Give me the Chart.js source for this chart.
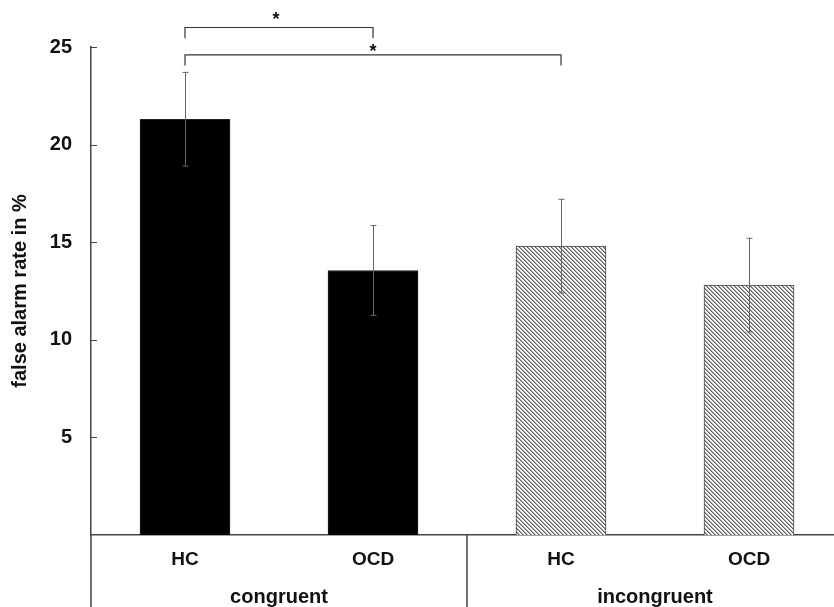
<!DOCTYPE html>
<html lang="en">
<head>
  <meta charset="UTF-8" />
  <title>False alarm rate</title>
  <script src="https://cdn.jsdelivr.net/npm/chart.js"></script>
  <style>
    html, body { margin: 0; padding: 0; background: #fff; overflow: hidden; }
    #wrap { width: 834px; height: 607px; overflow: hidden; }
  </style>
</head>
<body>
  <div id="wrap"><canvas id="chart" width="850" height="607"></canvas></div>

  <script>
    // data
    const categories = ['HC', 'OCD', 'HC', 'OCD'];
    const groups = ['congruent', 'incongruent'];
    const values = [21.3, 13.55, 14.8, 12.8];
    const errors = [2.4, 2.3, 2.4, 2.4];
    const yTicks = [5, 10, 15, 20, 25];
    // significance brackets
    const bracketFrom = [0, 0];
    const bracketTo = [1, 2];
    const bracketLevel = [26.0, 24.6];
    const bracketLabel = ['*', '*'];

    const FONT = 'Arial, "Liberation Sans", sans-serif';
    const LINE = '#444';

    // fine diagonal hatch (top-left to bottom-right)
    function hatch() {
      const c = document.createElement('canvas');
      c.width = 4; c.height = 4;
      const g = c.getContext('2d');
      const img = g.createImageData(4, 4);
      for (let j = 0; j < 4; j++) {
        for (let i = 0; i < 4; i++) {
          const k = ((i - j) % 4 + 4) % 4;
          const v = k === 0 ? 0x60 : (k === 1 ? 0xa8 : 0xf8);
          const p = (j * 4 + i) * 4;
          img.data[p] = img.data[p + 1] = img.data[p + 2] = v;
          img.data[p + 3] = 255;
        }
      }
      g.putImageData(img, 0, 0);
      return g.createPattern(c, 'repeat');
    }
    const pat = hatch();

    const extras = {
      id: 'extras',
      afterDatasetsDraw(chart) {
        const ctx = chart.ctx;
        const x = chart.scales.x, y = chart.scales.y;
        const area = chart.chartArea;
        ctx.save();

        // axis extensions and group divider
        ctx.strokeStyle = LINE;
        ctx.lineWidth = 1.5;
        ctx.beginPath();
        ctx.moveTo(area.left, area.bottom);
        ctx.lineTo(area.left, chart.height);
        const mid = (x.getPixelForValue(1) + x.getPixelForValue(2)) / 2;
        ctx.moveTo(mid, area.bottom);
        ctx.lineTo(mid, chart.height);
        ctx.stroke();

        // inward tick marks
        ctx.lineWidth = 1;
        ctx.beginPath();
        yTicks.forEach(t => {
          const py = Math.round(y.getPixelForValue(t)) + 0.5;
          ctx.moveTo(area.left, py);
          ctx.lineTo(area.left + 6, py);
        });
        ctx.stroke();

        // error bars
        ctx.strokeStyle = '#666';
        ctx.lineWidth = 1;
        values.forEach((v, i) => {
          const px = Math.round(x.getPixelForValue(i)) + 0.5;
          const hi = y.getPixelForValue(v + errors[i]);
          const lo = y.getPixelForValue(v - errors[i]);
          ctx.beginPath();
          ctx.moveTo(px, hi); ctx.lineTo(px, lo);
          ctx.moveTo(px - 3, hi); ctx.lineTo(px + 3, hi);
          ctx.moveTo(px - 3, lo); ctx.lineTo(px + 3, lo);
          ctx.stroke();
        });

        // significance brackets
        ctx.strokeStyle = '#333';
        ctx.fillStyle = '#111';
        ctx.lineWidth = 1.2;
        ctx.font = 'bold 18px ' + FONT;
        ctx.textAlign = 'center';
        ctx.textBaseline = 'middle';
        bracketFrom.forEach((a, k) => {
          const x1 = x.getPixelForValue(a);
          const x2 = x.getPixelForValue(bracketTo[k]);
          const py = y.getPixelForValue(bracketLevel[k]);
          const drop = y.getPixelForValue(bracketLevel[k] - 0.55);
          ctx.beginPath();
          ctx.moveTo(x1, drop); ctx.lineTo(x1, py);
          ctx.lineTo(x2, py); ctx.lineTo(x2, drop);
          ctx.stroke();
          const near = bracketTo[k] === 1;
          const lx = near ? (x1 + x2) / 2 - 3 : x.getPixelForValue(1);
          ctx.fillText(bracketLabel[k], lx, py - (near ? 7 : 3));
        });

        ctx.restore();
      }
    };

    new Chart(document.getElementById('chart'), {
      type: 'bar',
      data: {
        labels: categories,
        datasets: [{
          data: values,
          backgroundColor: ['#000', '#000', pat, pat],
          borderColor: ['#222', '#222', '#444', '#444'],
          borderWidth: 1,
          barThickness: 90
        }]
      },
      options: {
        responsive: false,
        animation: false,
        events: [],
        layout: { padding: { top: 47, right: 7, left: 0, bottom: 0 } },
        plugins: { legend: { display: false }, tooltip: { enabled: false } },
        scales: {
          y: {
            min: 0, max: 25,
            afterFit: a => { a.width = 91; },
            afterBuildTicks: a => { a.ticks = yTicks.map(v => ({ value: v })); },
            grid: { display: false, drawTicks: false },
            border: { display: true, color: LINE, width: 1.5 },
            ticks: { padding: 19, color: '#111', font: { family: FONT, size: 20, weight: 'bold' } },
            title: {
              display: true, text: 'false alarm rate in %', color: '#111',
              font: { family: FONT, size: 20, weight: 'bold' }, padding: { top: 8, bottom: 0 }
            }
          },
          x: {
            afterFit: a => { a.height = 42; },
            grid: { display: false, drawTicks: false },
            border: { display: true, color: LINE, width: 1.5 },
            ticks: { padding: 13, color: '#111', font: { family: FONT, size: 19, weight: 'bold' } }
          },
          x2: {
            type: 'category',
            labels: groups,
            position: 'bottom',
            afterFit: a => { a.height = 30; },
            grid: { display: false, drawTicks: false },
            border: { display: false },
            ticks: { padding: 8, color: '#111', font: { family: FONT, size: 20, weight: 'bold' } }
          }
        }
      },
      plugins: [extras]
    });
  </script>
</body>
</html>
